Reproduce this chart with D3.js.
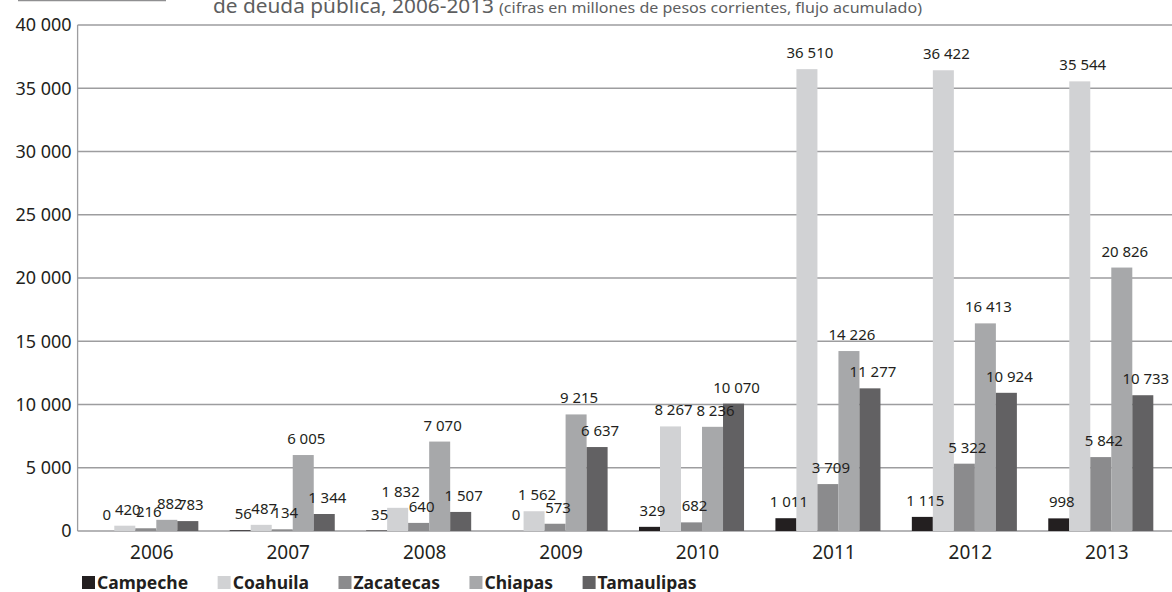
<!DOCTYPE html>
<html>
<head>
<meta charset="utf-8">
<script src="https://cdn.jsdelivr.net/npm/d3@7"></script>
<style>
  body { margin: 0; background: #fff; }
  svg { display: block; font-family: "Noto Sans", "Open Sans", sans-serif; }
</style>
</head>
<body>
<div id="graph"></div>
<script>
// years on the x axis
const years = ["2006", "2007", "2008", "2009", "2010", "2011", "2012", "2013"]
const states = ["Campeche", "Coahuila", "Zacatecas", "Chiapas", "Tamaulipas"]

// millones de pesos corrientes, flujo acumulado
const campeche = [0, 56, 35, 0, 329, 1011, 1115, 998]
const coahuila = [420, 487, 1832, 1562, 8267, 36510, 36422, 35544]
const zacatecas = [216, 134, 640, 573, 682, 3709, 5322, 5842]
const chiapas = [882, 6005, 7070, 9215, 8236, 14226, 16413, 20826]
const tamaulipas = [783, 1344, 1507, 6637, 10070, 11277, 10924, 10733]

const yTicks = [0, 5000, 10000, 15000, 20000, 25000, 30000, 35000, 40000]

const titleMain = "de deuda pública, 2006-2013"
const titleNote = "(cifras en millones de pesos corrientes, flujo acumulado)"

const colors = ["#231f20", "#d1d2d4", "#8b8b8d", "#a7a8aa", "#626163"]

const series = [campeche, coahuila, zacatecas, chiapas, tamaulipas]
const rows = []
years.forEach((yr, i) => {
    states.forEach((st, j) => rows.push({ year: yr, state: st, val: series[j][i] }))
})

const width = 1172, height = 592
const fmt = d3.formatLocale({ decimal: ",", thousands: " ", grouping: [3], currency: ["$", ""] }).format(",d")

const svg = d3.select("#graph")
    .append("svg")
        .attr("width", width)
        .attr("height", height)

const x = d3.scaleBand().domain(years).range([77.6, 1169]).paddingInner(0.23).paddingOuter(0.115)
const xs = d3.scaleBand().domain(states).range([0, x.bandwidth()])
const y = d3.scaleLinear().domain([0, 40000]).range([531, 25])
const color = d3.scaleOrdinal().domain(states).range(colors)

// box edge at top left, from the figure header
svg.append("line")
    .attr("x1", 18).attr("x2", 166)
    .attr("y1", 0.5).attr("y2", 0.5)
    .attr("stroke", "#8f8f91").attr("stroke-width", 1.5)

// title, its top is cut by the crop
svg.append("text")
    .attr("x", 213).attr("y", 13)
    .attr("fill", "#5d5e60")
    .attr("font-size", 20)
    .attr("textLength", 281)
    .attr("lengthAdjust", "spacingAndGlyphs")
    .text(titleMain)
svg.append("text")
    .attr("x", 499).attr("y", 13)
    .attr("fill", "#5d5e60")
    .attr("font-size", 15)
    .attr("textLength", 423)
    .attr("lengthAdjust", "spacingAndGlyphs")
    .text(titleNote)

// grid
svg.append("g")
    .selectAll("line")
    .data(yTicks)
    .enter().append("line")
        .attr("x1", 77.6).attr("x2", width)
        .attr("y1", d => y(d)).attr("y2", d => y(d))
        .attr("stroke", "#9d9d9f").attr("stroke-width", 1.3)

svg.append("line")
    .attr("x1", 77.6).attr("x2", 77.6)
    .attr("y1", y(40000)).attr("y2", y(0))
    .attr("stroke", "#9d9d9f").attr("stroke-width", 1.3)

const yAxis = svg.append("g")
    .attr("transform", "translate(77.6,0)")
    .call(d3.axisLeft(y).tickValues(yTicks).tickFormat(fmt).tickSize(0).tickPadding(6))
yAxis.select(".domain").remove()
yAxis.selectAll("text")
    .attr("font-size", 18)
    .attr("font-family", "'Noto Sans', sans-serif")
    .attr("fill", "#231f20")

// bars
const groups = svg.append("g")
    .selectAll("g")
    .data(rows)
    .enter()

groups.append("rect")
    .attr("x", d => x(d.year) + xs(d.state))
    .attr("y", d => y(d.val))
    .attr("width", xs.bandwidth())
    .attr("height", d => y(0) - y(d.val))
    .attr("fill", d => color(d.state))

groups.append("text")
    .attr("x", d => x(d.year) + xs(d.state) + xs.bandwidth() / 2 + 3)
    .attr("y", d => y(d.val) - 11)
    .attr("text-anchor", "middle")
    .attr("font-size", 15)
    .attr("fill", "#231f20")
    .text(d => fmt(d.val))

// x labels
svg.append("g")
    .selectAll("text")
    .data(years)
    .enter().append("text")
        .attr("x", d => x(d) + x.bandwidth() / 2 + 6)
        .attr("y", 559)
        .attr("text-anchor", "middle")
        .attr("font-size", 19)
        .attr("fill", "#231f20")
        .text(d => d)

// legend
let lx = 82
states.forEach(st => {
    svg.append("rect")
        .attr("x", lx).attr("y", 576)
        .attr("width", 13).attr("height", 13)
        .attr("fill", color(st))
    const t = svg.append("text")
        .attr("x", lx + 15).attr("y", 589)
        .attr("font-size", 17.5)
        .attr("font-weight", "bold")
        .attr("fill", "#231f20")
        .text(st)
    lx += 15 + t.node().getComputedTextLength() + 29.5
})
</script>
</body>
</html>
